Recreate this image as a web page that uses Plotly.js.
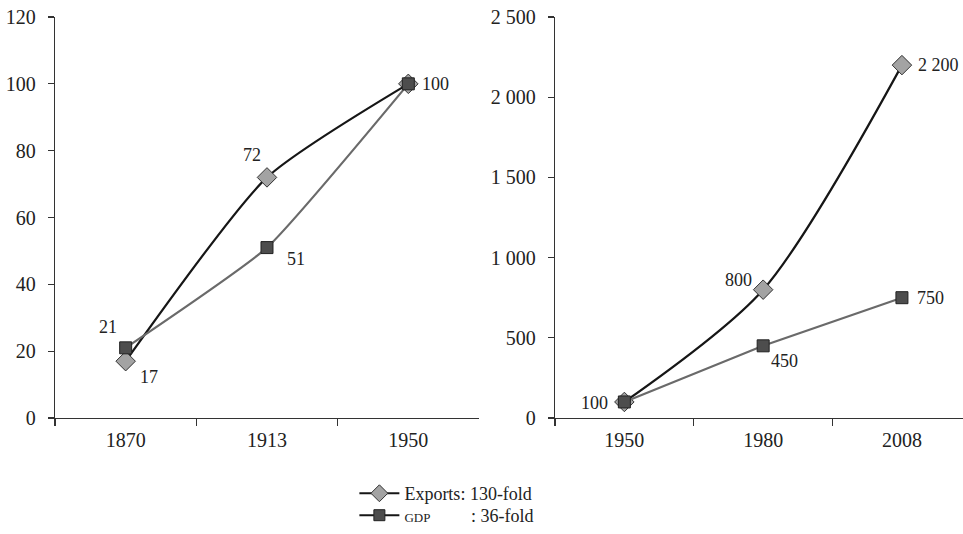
<!DOCTYPE html>
<html>
<head>
<meta charset="utf-8">
<script src="https://cdn.plot.ly/plotly-3.0.1.min.js"></script>
<style>html,body{margin:0;padding:0;background:#fff;}#chart{width:963px;height:534px;}</style>
</head>
<body>
<div id="chart"></div>
<script>
// ---- data ----
const yearsLeft = ['1870', '1913', '1950'];
const exportsLeft = [17, 72, 100];
const gdpLeft = [21, 51, 100];

const yearsRight = ['1950', '1980', '2008'];
const exportsRight = [100, 800, 2200];
const gdpRight = [100, 450, 750];

const legendExports = 'Exports: 130-fold';
const legendGdp = '<span style="font-size:13px">GDP</span>&nbsp;&nbsp;&nbsp;&nbsp;&nbsp;&nbsp;&nbsp;&nbsp;&nbsp;: 36-fold';

// which points carry a value label (shared points labelled once)
const showExportsLeft = [true, true, true];
const showGdpLeft = [true, true, false];
const showExportsRight = [false, true, true];
const showGdpRight = [true, true, true];

// label placement (style only)
const placeExportsLeft = [{xa:'left',dx:12,dy:-16},{xa:'right',dx:-4,dy:22},{xa:'left',dx:12,dy:0}];
const placeGdpLeft = [{xa:'right',dx:-7,dy:21},{xa:'left',dx:18,dy:-11},null];
const placeExportsRight = [null,{xa:'right',dx:-9,dy:10},{xa:'left',dx:14,dy:0}];
const placeGdpRight = [{xa:'right',dx:-14,dy:-1},{xa:'left',dx:6,dy:-15},{xa:'left',dx:13,dy:0}];

const fmt = v => String(v).replace(/\B(?=(\d{3})+(?!\d))/g, ' ');

const SERIF = 'Liberation Serif';
const expLine = {color:'#161616', width:2.2, shape:'spline', smoothing:0.6};
const gdpLine = {color:'#6a6a6a', width:2.2, shape:'spline', smoothing:0.45};
const expMarker = {symbol:'diamond', size:15, color:'#a3a3a3', line:{color:'#333', width:1}};
const gdpMarker = {symbol:'square', size:12, color:'#4d4d4d', line:{color:'#222', width:1}};

const traces = [
  {x:yearsLeft, y:exportsLeft, xaxis:'x', yaxis:'y', mode:'lines+markers', line:expLine, marker:expMarker, showlegend:false, hoverinfo:'skip'},
  {x:yearsLeft, y:gdpLeft, xaxis:'x', yaxis:'y', mode:'lines+markers', line:gdpLine, marker:gdpMarker, showlegend:false, hoverinfo:'skip'},
  {x:yearsRight, y:exportsRight, xaxis:'x2', yaxis:'y2', mode:'lines+markers', line:{...expLine, smoothing:0.8}, marker:expMarker, showlegend:false, hoverinfo:'skip'},
  {x:yearsRight, y:gdpRight, xaxis:'x2', yaxis:'y2', mode:'lines+markers', line:{...gdpLine, shape:'linear'}, marker:gdpMarker, showlegend:false, hoverinfo:'skip'},
  // legend entries
  {x:[null], y:[null], xaxis:'x', yaxis:'y', mode:'lines+markers', name:legendExports, legend:'legend', line:{color:'#161616', width:2}, marker:{...expMarker, size:13}},
  {x:[null], y:[null], xaxis:'x', yaxis:'y', mode:'lines+markers', name:legendGdp, legend:'legend2', line:{color:'#161616', width:2}, marker:{...gdpMarker, size:11}}
];

const annotations = [];
function addLabels(xs, ys, show, place, xref, yref) {
  xs.forEach((x, i) => {
    if (!show[i] || !place[i]) return;
    annotations.push({
      x: i, y: ys[i], xref: xref, yref: yref, text: fmt(ys[i]), showarrow: false,
      xanchor: place[i].xa, yanchor: 'middle', xshift: place[i].dx, yshift: place[i].dy,
      font: {family: SERIF, size: 18, color: '#222'}
    });
  });
}
addLabels(yearsLeft, exportsLeft, showExportsLeft, placeExportsLeft, 'x', 'y');
addLabels(yearsLeft, gdpLeft, showGdpLeft, placeGdpLeft, 'x', 'y');
addLabels(yearsRight, exportsRight, showExportsRight, placeExportsRight, 'x2', 'y2');
addLabels(yearsRight, gdpRight, showGdpRight, placeGdpRight, 'x2', 'y2');

const axisFont = {family: SERIF, size: 20, color: '#222'};
const xCommon = {type:'category', tickson:'boundaries', ticks:'outside', ticklen:7, tickcolor:'#333', tickwidth:1.2,
  showline:true, linecolor:'#333', linewidth:1.3, showgrid:false, zeroline:false, tickfont:axisFont, ticklabelstandoff:4, fixedrange:true};
const yCommon = {ticks:'outside', ticklen:6, tickcolor:'#333', tickwidth:1.2, showline:true, linecolor:'#333', linewidth:1.3,
  showgrid:false, zeroline:false, tickfont:axisFont, ticklabelstandoff:8, fixedrange:true};

// plot area: top at 17px, bottom at 418px; legend lives inside the paper area below
const yDom = [116 / 517, 1];
const legCommon = {x:0.368, xanchor:'left', orientation:'v', bgcolor:'rgba(0,0,0,0)',
  font:{family: SERIF, size:18, color:'#222'}, tracegroupgap:0, itemwidth:40};

const layout = {
  width: 963, height: 534,
  margin: {l:0, r:0, t:17, b:0},
  paper_bgcolor:'#fff', plot_bgcolor:'#fff',
  separators: '. ',
  font: {family: SERIF, color:'#222'},
  xaxis: {...xCommon, domain:[0.0571, 0.4974], range:[-0.5, 2.5], categoryarray: yearsLeft, categoryorder:'array', anchor:'y'},
  yaxis: {...yCommon, domain:yDom, range:[0,120], dtick:20, anchor:'x'},
  xaxis2: {...xCommon, domain:[0.5763, 1], range:[-0.5, 2.44], categoryarray: yearsRight, categoryorder:'array', anchor:'y2'},
  yaxis2: {...yCommon, domain:yDom, range:[0,2500], dtick:500, tickformat:',d', anchor:'x2'},
  showlegend: true,
  legend: {...legCommon, y:0.114, yanchor:'top'},
  legend2: {...legCommon, y:0, yanchor:'bottom'},
  annotations: annotations
};

Plotly.newPlot('chart', traces, layout, {staticPlot:true, displayModeBar:false});
</script>
</body>
</html>
